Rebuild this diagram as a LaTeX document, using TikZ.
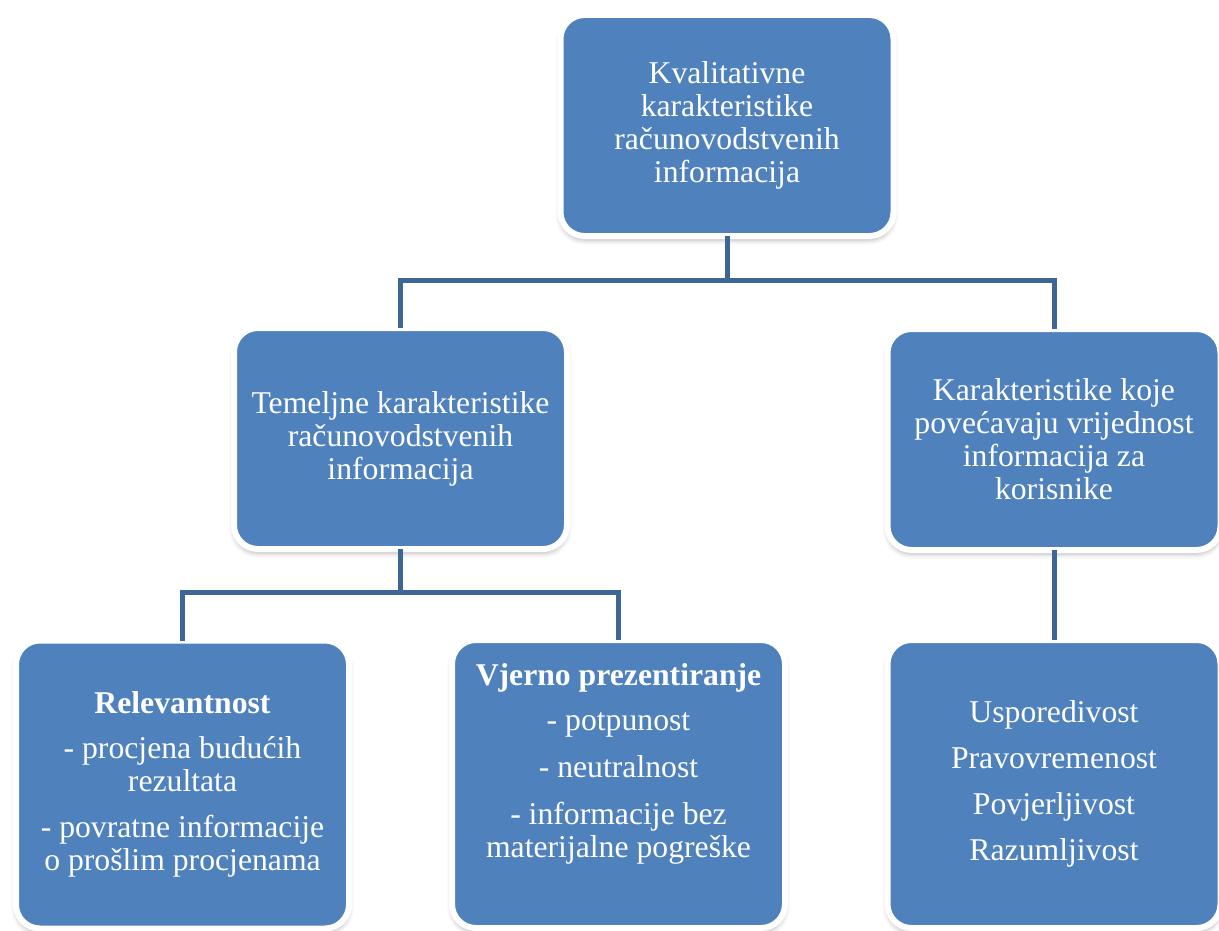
\documentclass[tikz,border=0pt]{standalone}
\usepackage{fontspec}
\setmainfont{Liberation Serif}
\usetikzlibrary{shadows.blur}
\definecolor{boxblue}{HTML}{4F81BD}
\definecolor{lineblue}{HTML}{3D6697}
\tikzset{%
    blk/.style={rectangle, rounded corners=24pt, fill=boxblue, draw=white, line width=6pt, outer sep=0pt,
        minimum width=333pt, minimum height=221pt, text=white, align=center,
        font=\fontsize{31.7}{33}\selectfont,
        blur shadow={shadow xshift=0pt, shadow yshift=-4pt, shadow blur radius=5pt, shadow opacity=30}},
    blkl/.style={blk, minimum height=288pt},
    con/.style={line width=5pt, draw=lineblue},
}
\begin{document}
\begin{tikzpicture}[x=1pt, y=-1pt, inner sep=0.7pt]
    \useasboundingbox (0,0) rectangle (1219,931);
    \node[blk] (kval) at (727,125.5) {Kvalitativne\\ karakteristike\\ računovodstvenih\\ informacija};
    \node[blk] (temelj) at (400.5,438.5) {Temeljne karakteristike\\ računovodstvenih\\ informacija};
    \node[blk] (vrij) at (1054,439.5) {Karakteristike koje\\ povećavaju vrijednost\\ informacija za\\ korisnike};
    \node[blkl] (relev) at (182.5,784.5) {\textbf{Relevantnost}\\[12pt] - procjena budućih\\ rezultata\\[13pt] - povratne informacije\\ o prošlim procjenama};
    \node[blkl] (vjer) at (618.5,784) {\textbf{Vjerno prezentiranje}\\[12pt] - potpunost\\[14pt] - neutralnost\\[14pt] - informacije bez\\ materijalne pogreške\\[15pt]\mbox{}};
    \node[blkl] (uspor) at (1054,784) {Usporedivost\\[13pt] Pravovremenost\\[13pt] Povjerljivost\\[13pt] Razumljivost};
    \draw [con] (kval.south) -- ++(0,44.5) -| (temelj.north);
    \draw [con] (kval.south) -- ++(0,44.5) -| (vrij.north);
    \draw [con] (temelj.south) -- ++(0,43) -| (relev.north);
    \draw [con] (temelj.south) -- ++(0,43) -| (vjer.north);
    \draw [con] (vrij.south) -- (uspor.north);
\end{tikzpicture}
\end{document}
